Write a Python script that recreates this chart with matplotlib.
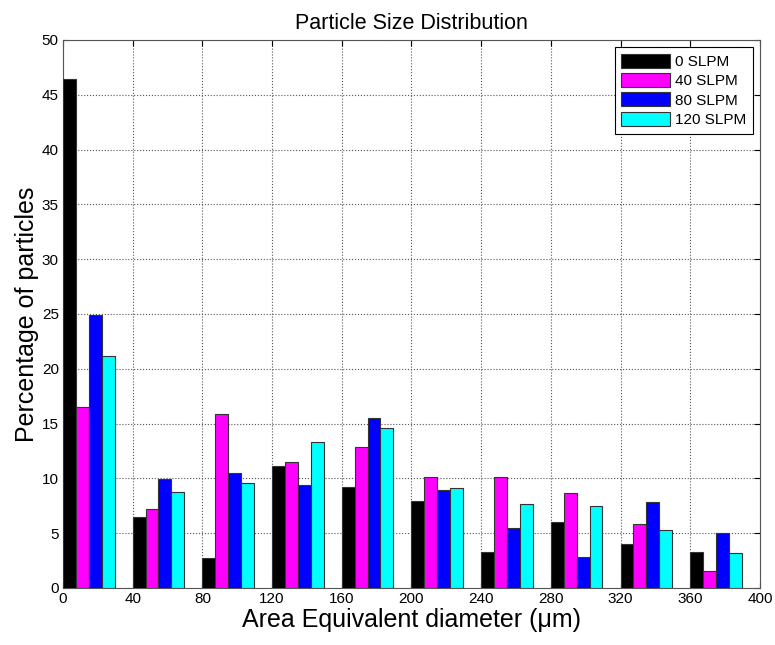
import numpy as np
import matplotlib
matplotlib.use('Agg')
import matplotlib.pyplot as plt

plt.rcParams['font.family'] = ['Liberation Sans', 'DejaVu Sans']

# bin start (um) and percentage per flow rate
bins = [0, 40, 80, 120, 160, 200, 240, 280, 320, 360]
slpm_0 = [46.4, 6.5, 2.7, 11.1, 9.2, 7.9, 3.3, 6.0, 4.0, 3.3]
slpm_40 = [16.5, 7.2, 15.9, 11.5, 12.9, 10.1, 10.1, 8.7, 5.8, 1.55]
slpm_80 = [24.9, 9.9, 10.5, 9.4, 15.5, 8.9, 5.5, 2.8, 7.8, 5.0]
slpm_120 = [21.2, 8.8, 9.6, 13.3, 14.6, 9.1, 7.7, 7.5, 5.3, 3.2]
labels = ['0 SLPM', '40 SLPM', '80 SLPM', '120 SLPM']
colors = ['#000000', '#ff00ff', '#0000ff', '#00ffff']

fig = plt.figure(figsize=(7.75, 6.45), dpi=100)
ax = fig.add_axes([0.0813, 0.0884, 0.8993, 0.8496])

width = 7.4
series = [slpm_0, slpm_40, slpm_80, slpm_120]
x = np.array(bins, dtype=float)
for i, (vals, lab, col) in enumerate(zip(series, labels, colors)):
    ax.bar(x + i * width, vals, width=width, align='edge', color=col,
           edgecolor='#333333', linewidth=0.8, label=lab, zorder=3)

ax.set_xlim(0, 400)
ax.set_ylim(0, 50)
ax.set_xticks(np.arange(0, 401, 40))
ax.set_yticks(np.arange(0, 51, 5))
ax.tick_params(direction='in', top=True, right=True, labelsize=11, length=4, pad=3)
ax.grid(True, linestyle=':', color='#555555', linewidth=0.8, zorder=0)
for sp in ax.spines.values():
    sp.set_color('#555555')

ax.set_title('Particle Size Distribution', fontsize=15.5, pad=8)
ax.set_xlabel('Area Equivalent diameter (\u03bcm)', fontsize=18, labelpad=1)
ax.set_ylabel('Percentage of particles', fontsize=18, labelpad=2)

leg = ax.legend(loc='upper right', fontsize=11, fancybox=False, framealpha=1,
                edgecolor='black', handlelength=3.2, handleheight=1.05,
                borderaxespad=0.45, labelspacing=0.26, handletextpad=0.3,
                borderpad=0.45)
leg.get_frame().set_linewidth(0.8)

fig.savefig('out.png', dpi=100)
